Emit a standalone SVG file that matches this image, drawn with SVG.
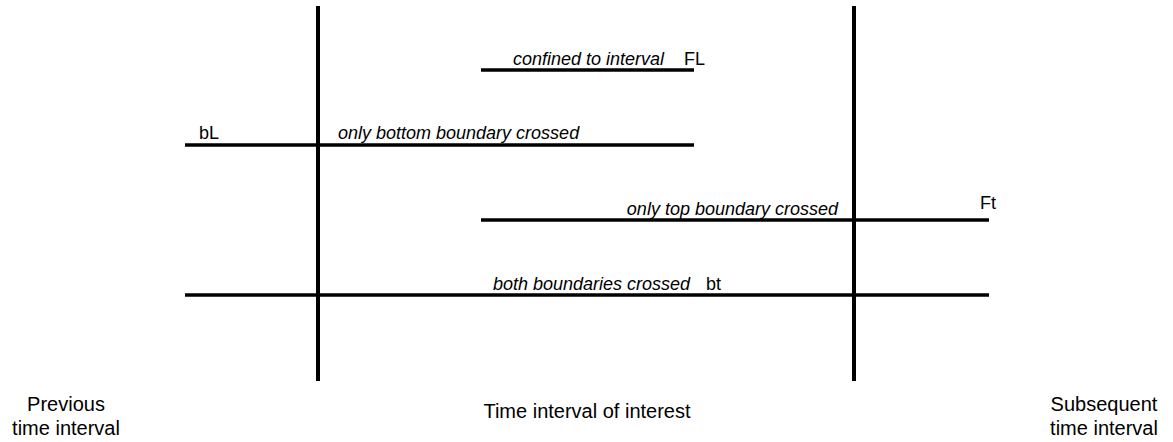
<svg xmlns="http://www.w3.org/2000/svg" width="1173" height="442" viewBox="0 0 1173 442">
<style>
.v{stroke:#000;stroke-width:4;fill:none}
.h{stroke:#000;stroke-width:3.5;fill:none}
.it{font-family:"Liberation Sans",Arial,sans-serif;font-size:18px;font-style:italic;fill:#000}
.lb{font-family:"Liberation Sans",Arial,sans-serif;font-size:18px;fill:#000}
.bt{font-family:"Liberation Sans",Arial,sans-serif;font-size:20px;fill:#000;text-anchor:middle}
</style>
<rect width="1173" height="442" fill="#fff"/>
<g id="connectors">
<line class="v" x1="318" y1="6" x2="318" y2="381"/>
<line class="v" x1="854" y1="6" x2="854" y2="381"/>
<line class="h" x1="481" y1="70" x2="694" y2="70"/>
<line class="h" x1="185" y1="145" x2="694" y2="145"/>
<line class="h" x1="481" y1="220" x2="989" y2="220"/>
<line class="h" x1="185" y1="295" x2="989" y2="295"/>
</g>
<g id="confined">
<text class="it" x="664" y="65" text-anchor="end">confined to interval</text>
<text class="lb" x="684" y="65">FL</text>
</g>
<g id="bottom">
<text class="lb" x="199" y="139">bL</text>
<text class="it" x="338" y="139">only bottom boundary crossed</text>
</g>
<g id="top">
<text class="it" x="838" y="215" text-anchor="end">only top boundary crossed</text>
<text class="lb" x="980" y="209">Ft</text>
</g>
<g id="both">
<text class="it" x="493" y="290">both boundaries crossed</text>
<text class="lb" x="706" y="290">bt</text>
</g>
<g id="prev">
<text class="bt" x="66" y="411">Previous</text>
<text class="bt" x="66" y="435">time interval</text>
</g>
<g id="interest">
<text class="bt" x="587" y="418">Time interval of interest</text>
</g>
<g id="subsequent">
<text class="bt" x="1104" y="411">Subsequent</text>
<text class="bt" x="1104" y="435">time interval</text>
</g>
</svg>
